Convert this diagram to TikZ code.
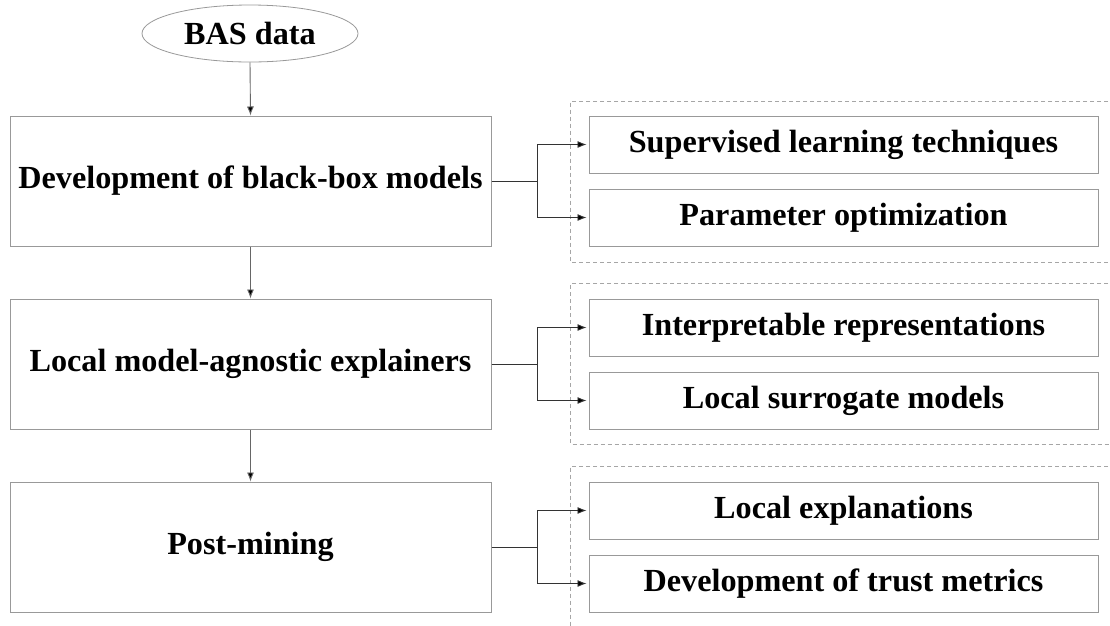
\documentclass[tikz,border=0pt]{standalone}
\usepackage{fontspec}
\setmainfont{Liberation Serif}
\usetikzlibrary{shapes.geometric,arrows.meta}
\begin{document}
\begin{tikzpicture}[x=1pt,y=-1pt,
  txt/.style={font=\fontsize{32.2}{36}\selectfont\bfseries, text=black},
  mainbox/.style={txt, draw=black!40, line width=1pt, minimum width=481pt, minimum height=130pt, inner sep=0pt},
  subbox/.style={txt, draw=black!40, line width=1pt, minimum width=509pt, minimum height=57pt, inner sep=0pt},
  startnode/.style={txt, ellipse, draw=black!40, line width=0.8pt, minimum width=216pt, minimum height=57pt, inner sep=0pt},
  grp/.style={draw=black!35, line width=0.8pt, dash pattern=on 4pt off 3pt},
  flow/.style={draw=black!60, line width=0.9pt, -{Latex[length=9pt,width=7pt,fill=black]}},
  branch/.style={draw=black!80, line width=0.9pt, -{Latex[length=9pt,width=7pt,fill=black]}, shorten >=2pt}
]
\useasboundingbox (0,0) rectangle (1110,625);
\fill[white] (0,0) rectangle (1110,625);

% dashed groups
\draw[grp] (1115,101) -- (570.5,101) -- (570.5,262) -- (1115,262);
\draw[grp] (1115,283.5) -- (570.5,283.5) -- (570.5,444) -- (1115,444);
\draw[grp] (1115,466) -- (570.5,466) -- (570.5,640);

% nodes
\node[startnode] (data) at (250,33.5) {BAS data};
\node[mainbox] (m1) at (250.5,181) {Development of black-box models};
\node[mainbox] (m2) at (250.5,364) {Local model-agnostic explainers};
\node[mainbox] (m3) at (250.5,547) {Post-mining};

\node[subbox] (s1a) at (843.5,144.5) {Supervised learning techniques};
\node[subbox] (s1b) at (843.5,217.5) {Parameter optimization};
\node[subbox] (s2a) at (843.5,327.5) {Interpretable representations};
\node[subbox] (s2b) at (843.5,400.5) {Local surrogate models};
\node[subbox] (s3a) at (843.5,510.5) {Local explanations};
\node[subbox] (s3b) at (843.5,583.5) {Development of trust metrics};

% vertical flow
\draw[flow] (data.south) -- (m1.north);
\draw[flow] (m1.south) -- (m2.north);
\draw[flow] (m2.south) -- (m3.north);

% branches
\draw[branch] (m1.east) -- ++(46,0) |- (s1a.west);
\draw[branch] (m1.east) -- ++(46,0) |- (s1b.west);
\draw[branch] (m2.east) -- ++(46,0) |- (s2a.west);
\draw[branch] (m2.east) -- ++(46,0) |- (s2b.west);
\draw[branch] (m3.east) -- ++(46,0) |- (s3a.west);
\draw[branch] (m3.east) -- ++(46,0) |- (s3b.west);
\end{tikzpicture}
\end{document}
